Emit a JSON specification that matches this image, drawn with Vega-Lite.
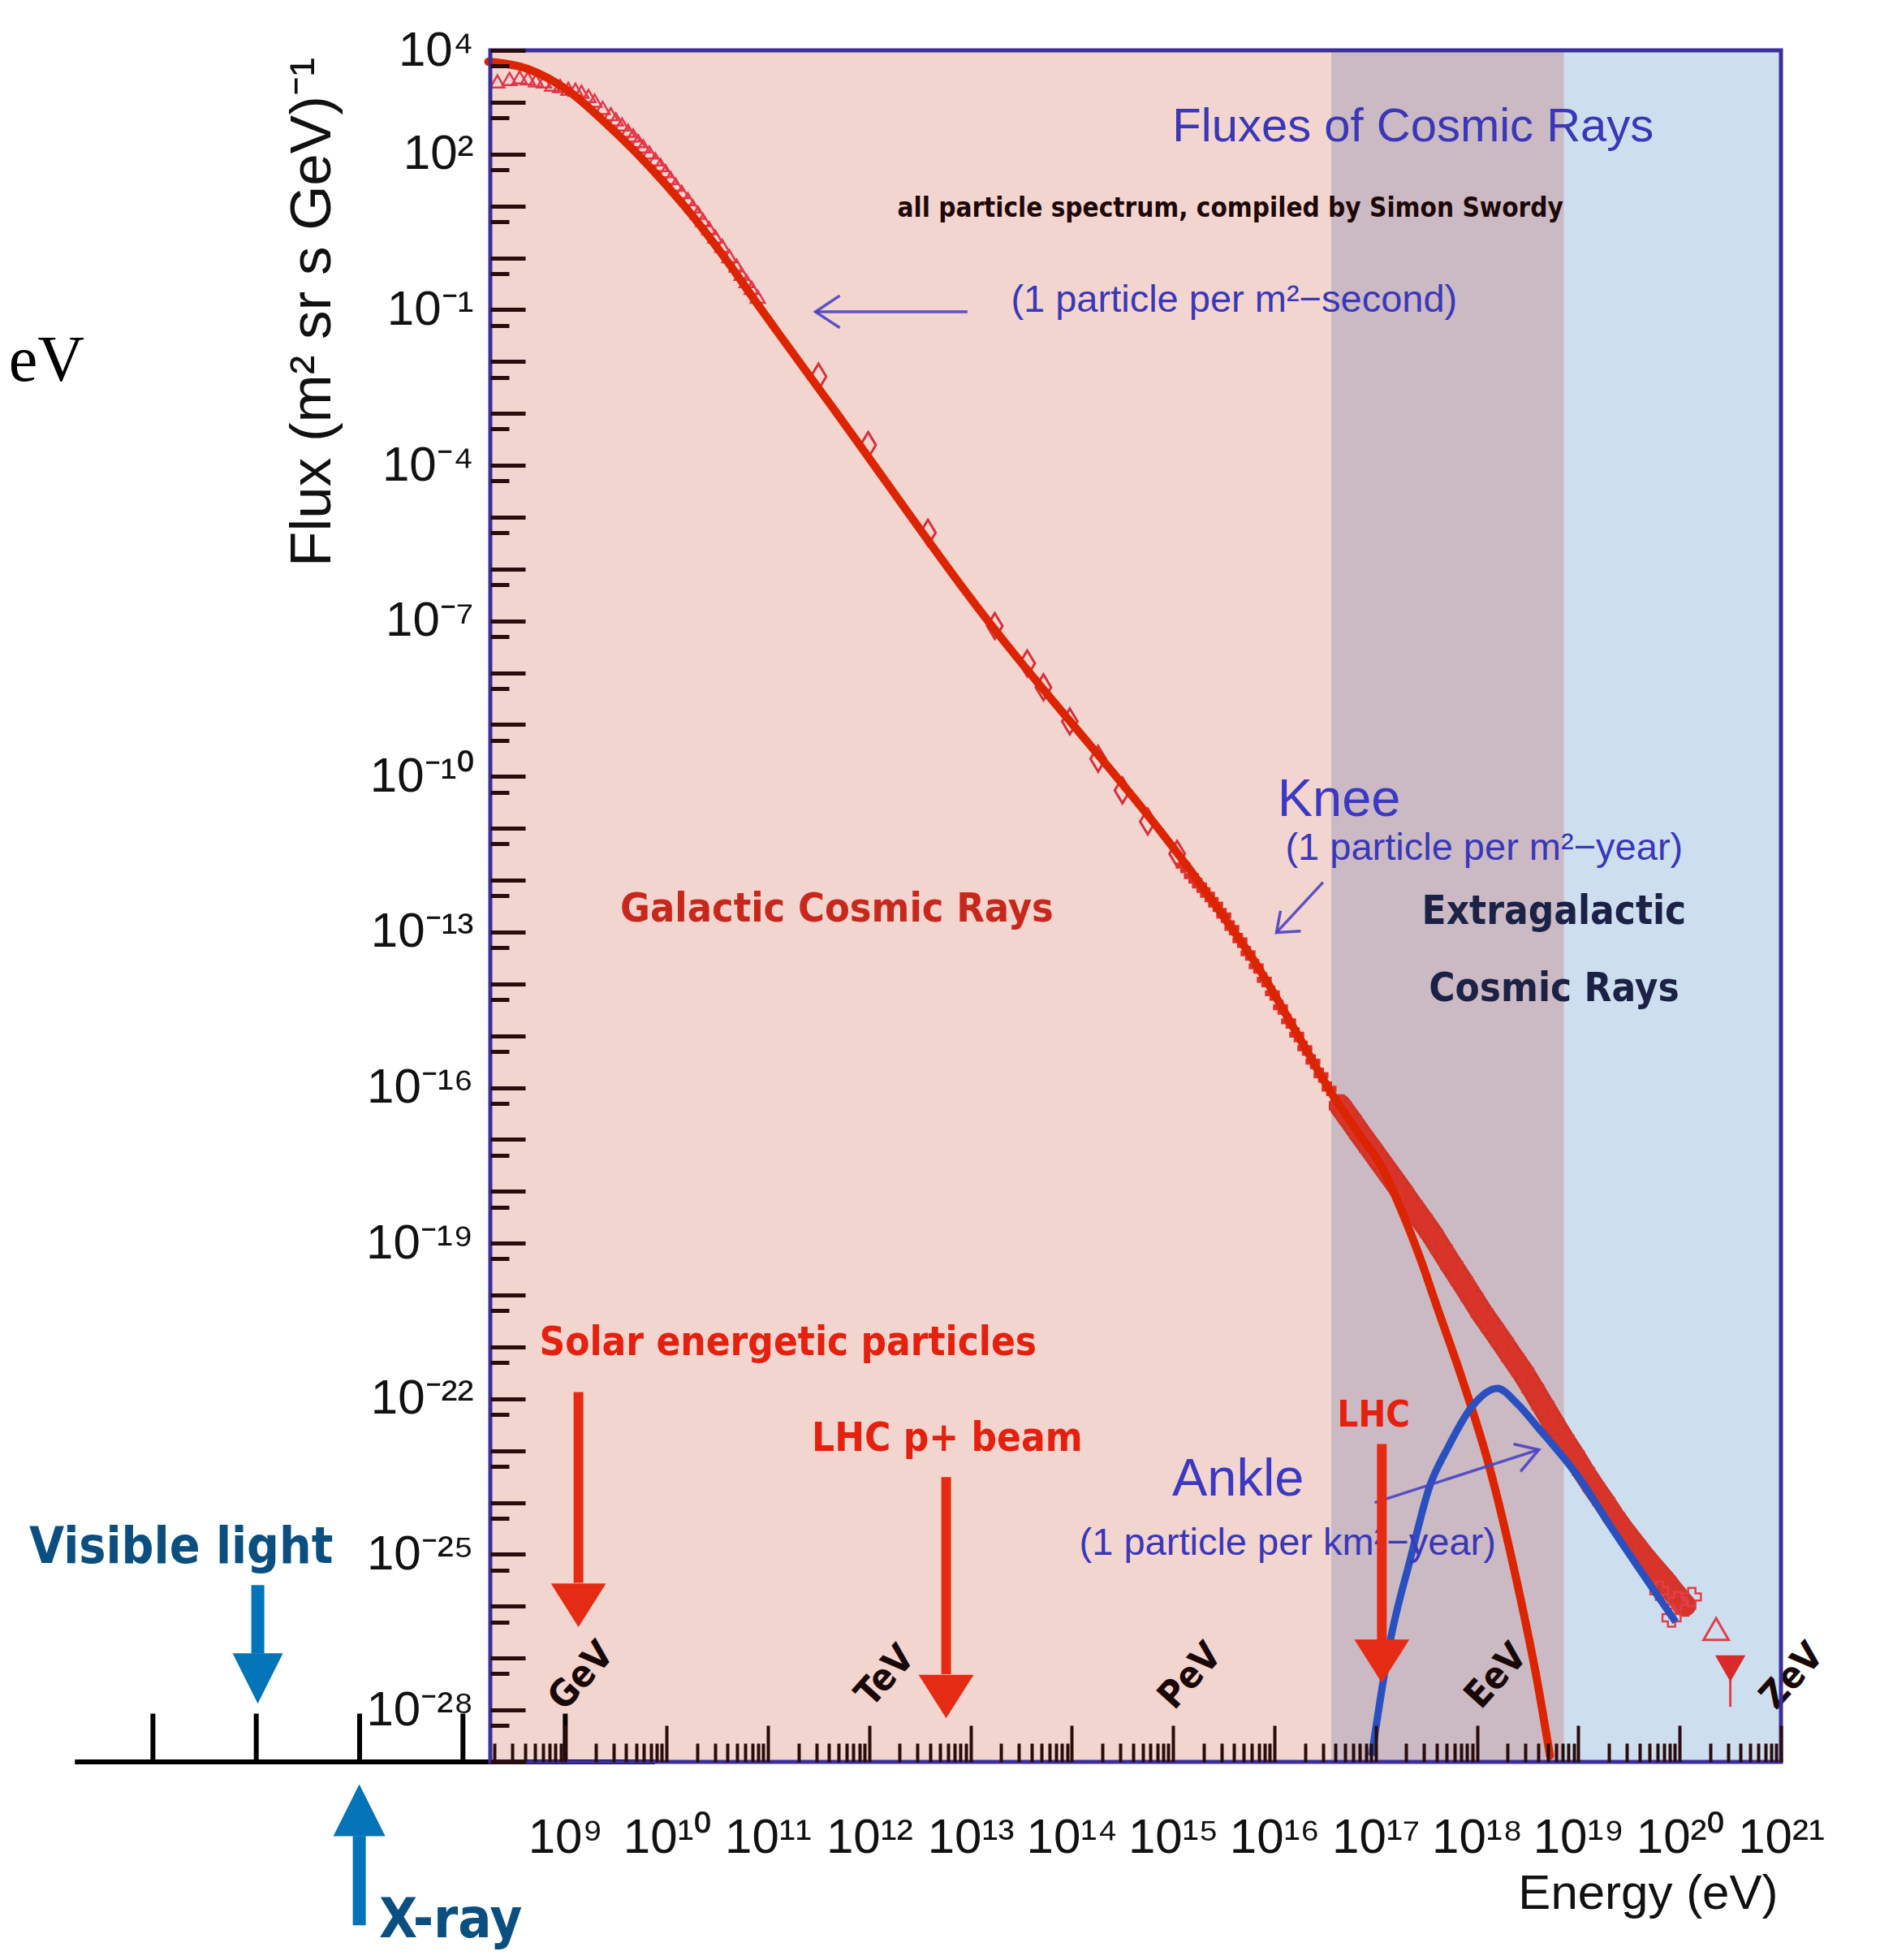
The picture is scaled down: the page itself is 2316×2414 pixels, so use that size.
{
  "$schema": "https://vega.github.io/schema/vega-lite/v6.json",
  "width": 1590,
  "height": 2108,
  "autosize": {"type": "none"},
  "padding": {"left": 604, "top": 62, "right": 122, "bottom": 244},
  "background": "#ffffff",
  "view": {"stroke": null},
  "datasets": {
    "regions": [
      {"region": "Galactic", "E": 1.82e8, "E2": 3.63e16, "F": 1e4, "F2": 1e-29},
      {"region": "Transition", "E": 3.63e16, "E2": 7.24e18, "F": 1e4, "F2": 1e-29},
      {"region": "Extragalactic", "E": 7.24e18, "E2": 1e21, "F": 1e4, "F2": 1e-29}
    ],
    "frame": [
      {"E": 1.82e8, "E2": 1e21, "F": 1e4, "F2": 1e-29}
    ],
    "measurements": [
      {"set": "direct", "E": 2.138e8, "F": 2512},
      {"set": "direct", "E": 2.818e8, "F": 2818},
      {"set": "direct", "E": 3.548e8, "F": 3020},
      {"set": "direct", "E": 4.266e8, "F": 2884},
      {"set": "direct", "E": 5.129e8, "F": 2630},
      {"set": "direct", "E": 6.166e8, "F": 2512},
      {"set": "direct", "E": 7.413e8, "F": 2188},
      {"set": "direct", "E": 8.913e8, "F": 2042},
      {"set": "direct", "E": 1.072e9, "F": 1820},
      {"set": "direct", "E": 1.259e9, "F": 1738},
      {"set": "direct", "E": 1.445e9, "F": 1585},
      {"set": "direct", "E": 1.698e9, "F": 1318},
      {"set": "direct", "E": 1.95e9, "F": 1072},
      {"set": "direct", "E": 2.344e9, "F": 776.2},
      {"set": "direct", "E": 2.818e9, "F": 588.8},
      {"set": "direct", "E": 3.162e9, "F": 467.7},
      {"set": "direct", "E": 3.631e9, "F": 371.5},
      {"set": "direct", "E": 4.169e9, "F": 281.8},
      {"set": "direct", "E": 4.677e9, "F": 229.1},
      {"set": "direct", "E": 5.248e9, "F": 177.8},
      {"set": "direct", "E": 5.888e9, "F": 141.3},
      {"set": "direct", "E": 6.761e9, "F": 107.2},
      {"set": "direct", "E": 7.762e9, "F": 79.43},
      {"set": "direct", "E": 8.71e9, "F": 61.66},
      {"set": "direct", "E": 9.772e9, "F": 46.77},
      {"set": "direct", "E": 1.096e10, "F": 34.67},
      {"set": "direct", "E": 1.23e10, "F": 25.7},
      {"set": "direct", "E": 1.413e10, "F": 18.62},
      {"set": "direct", "E": 1.622e10, "F": 13.49},
      {"set": "direct", "E": 1.82e10, "F": 9.772},
      {"set": "direct", "E": 2.042e10, "F": 7.413},
      {"set": "direct", "E": 2.291e10, "F": 5.37},
      {"set": "direct", "E": 2.63e10, "F": 3.715},
      {"set": "direct", "E": 3.02e10, "F": 2.57},
      {"set": "direct", "E": 3.548e10, "F": 1.698},
      {"set": "direct", "E": 4.169e10, "F": 1.072},
      {"set": "direct", "E": 4.898e10, "F": 0.7079},
      {"set": "direct", "E": 5.495e10, "F": 0.4898},
      {"set": "direct", "E": 6.166e10, "F": 0.3548},
      {"set": "direct", "E": 6.918e10, "F": 0.263},
      {"set": "direct", "E": 7.943e10, "F": 0.1778},
      {"set": "balloon", "E": 3.162e11, "F": 5.129e-3},
      {"set": "balloon", "E": 9.772e11, "F": 2.455e-4},
      {"set": "balloon", "E": 3.802e12, "F": 5.012e-6},
      {"set": "balloon", "E": 1.738e13, "F": 7.943e-8},
      {"set": "balloon", "E": 3.631e13, "F": 1.514e-8},
      {"set": "balloon", "E": 5.248e13, "F": 5.248e-9},
      {"set": "balloon", "E": 9.55e13, "F": 1.148e-9},
      {"set": "balloon", "E": 1.82e14, "F": 2.188e-10},
      {"set": "balloon", "E": 3.162e14, "F": 5.37e-11},
      {"set": "balloon", "E": 5.623e14, "F": 1.349e-11},
      {"set": "balloon", "E": 1.096e15, "F": 3.236e-12},
      {"set": "knee", "E": 1.259e15, "F": 1.905e-12},
      {"set": "knee", "E": 1.514e15, "F": 1.202e-12},
      {"set": "knee", "E": 1.82e15, "F": 7.943e-13},
      {"set": "knee", "E": 2.188e15, "F": 5.248e-13},
      {"set": "knee", "E": 2.63e15, "F": 3.388e-13},
      {"set": "knee", "E": 3.162e15, "F": 2.089e-13},
      {"set": "knee", "E": 3.802e15, "F": 1.202e-13},
      {"set": "knee", "E": 4.571e15, "F": 6.918e-14},
      {"set": "knee", "E": 5.495e15, "F": 3.89e-14},
      {"set": "knee", "E": 6.607e15, "F": 2.188e-14},
      {"set": "knee", "E": 7.943e15, "F": 1.202e-14},
      {"set": "knee", "E": 9.55e15, "F": 6.607e-15},
      {"set": "knee", "E": 1.148e16, "F": 3.548e-15},
      {"set": "knee", "E": 1.38e16, "F": 1.905e-15},
      {"set": "knee", "E": 1.66e16, "F": 1.047e-15},
      {"set": "knee", "E": 1.995e16, "F": 5.754e-16},
      {"set": "knee", "E": 2.399e16, "F": 3.162e-16},
      {"set": "knee", "E": 2.884e16, "F": 1.738e-16},
      {"set": "knee", "E": 3.467e16, "F": 9.55e-17},
      {"set": "ankle", "E": 4.467e16, "F": 4.467e-17},
      {"set": "ankle", "E": 5.623e16, "F": 2.399e-17},
      {"set": "ankle", "E": 7.079e16, "F": 1.259e-17},
      {"set": "ankle", "E": 8.913e16, "F": 6.761e-18},
      {"set": "ankle", "E": 1.122e17, "F": 3.631e-18},
      {"set": "ankle", "E": 1.413e17, "F": 1.95e-18},
      {"set": "ankle", "E": 1.778e17, "F": 1.047e-18},
      {"set": "ankle", "E": 2.239e17, "F": 5.495e-19},
      {"set": "ankle", "E": 2.818e17, "F": 2.951e-19},
      {"set": "ankle", "E": 3.548e17, "F": 1.549e-19},
      {"set": "ankle", "E": 4.467e17, "F": 7.586e-20},
      {"set": "ankle", "E": 5.623e17, "F": 3.715e-20},
      {"set": "ankle", "E": 7.079e17, "F": 1.862e-20},
      {"set": "ankle", "E": 8.913e17, "F": 9.12e-21},
      {"set": "ankle", "E": 1.122e18, "F": 4.467e-21},
      {"set": "ankle", "E": 1.413e18, "F": 2.344e-21},
      {"set": "ankle", "E": 1.778e18, "F": 1.23e-21},
      {"set": "ankle", "E": 2.239e18, "F": 6.31e-22},
      {"set": "ankle", "E": 2.818e18, "F": 3.311e-22},
      {"set": "ankle", "E": 3.548e18, "F": 1.585e-22},
      {"set": "ankle", "E": 4.467e18, "F": 7.413e-23},
      {"set": "ankle", "E": 5.623e18, "F": 3.467e-23},
      {"set": "ankle", "E": 7.079e18, "F": 1.66e-23},
      {"set": "ankle", "E": 8.913e18, "F": 8.318e-24},
      {"set": "ankle", "E": 1.122e19, "F": 3.981e-24},
      {"set": "ankle", "E": 1.413e19, "F": 1.995e-24},
      {"set": "ankle", "E": 1.778e19, "F": 1.047e-24},
      {"set": "ankle", "E": 2.239e19, "F": 5.248e-25},
      {"set": "ankle", "E": 2.818e19, "F": 2.818e-25},
      {"set": "ankle", "E": 3.548e19, "F": 1.585e-25},
      {"set": "ankle", "E": 4.467e19, "F": 8.913e-26},
      {"set": "ankle", "E": 5.623e19, "F": 5.248e-26},
      {"set": "ankle", "E": 7.079e19, "F": 3.162e-26},
      {"set": "ankle", "E": 8.913e19, "F": 1.778e-26},
      {"set": "ankle", "E": 1.122e20, "F": 1.047e-26},
      {"set": "uhe_misc", "E": 6.31e19, "F": 1.995e-26},
      {"set": "uhe_misc", "E": 9.55e19, "F": 1.259e-26},
      {"set": "uhe_misc", "E": 1.318e20, "F": 1.514e-26},
      {"set": "uhe_misc", "E": 8.318e19, "F": 6.026e-27},
      {"set": "uhe_open", "E": 2.291e20, "F": 3.631e-27},
      {"set": "uhe_limit", "E": 3.162e20, "F": 6.31e-28, "F2": 1.15e-28}
    ],
    "fit": [
      {"E": 1.738e8, "F": 6026},
      {"E": 4.266e8, "F": 4365},
      {"E": 1.072e9, "F": 1660},
      {"E": 2.692e9, "F": 346.7},
      {"E": 6.761e9, "F": 57.54},
      {"E": 1.698e10, "F": 7.413},
      {"E": 4.266e10, "F": 0.7079},
      {"E": 7.943e10, "F": 0.1259},
      {"E": 1.288e11, "F": 0.03388},
      {"E": 4.677e11, "F": 1.072e-3},
      {"E": 8.511e12, "F": 4.169e-7},
      {"E": 2.754e15, "F": 2.884e-13},
      {"E": 6.918e15, "F": 2.089e-14},
      {"E": 1.778e16, "F": 8.913e-16},
      {"E": 3.89e16, "F": 6.457e-17},
      {"E": 6.607e16, "F": 1.413e-17},
      {"E": 1.122e17, "F": 3.162e-18},
      {"E": 1.778e17, "F": 4.467e-19},
      {"E": 2.818e17, "F": 4.467e-20},
      {"E": 3.981e17, "F": 6.31e-21},
      {"E": 7.079e17, "F": 2.512e-22},
      {"E": 1.318e18, "F": 5.012e-24},
      {"E": 2.455e18, "F": 3.162e-26},
      {"E": 3.89e18, "F": 3.981e-28},
      {"E": 5.248e18, "F": 1.318e-29}
    ],
    "extragalactic": [
      {"E": 9.12e16, "F": 1.318e-29},
      {"E": 1.38e17, "F": 1.995e-27},
      {"E": 2.188e17, "F": 7.943e-26},
      {"E": 3.388e17, "F": 1.995e-24},
      {"E": 5.129e17, "F": 1.122e-23},
      {"E": 8.913e17, "F": 7.079e-23},
      {"E": 1.585e18, "F": 1.585e-22},
      {"E": 2.512e18, "F": 7.943e-23},
      {"E": 3.981e18, "F": 2.818e-23},
      {"E": 9.55e18, "F": 3.548e-24},
      {"E": 2.239e19, "F": 2.818e-25},
      {"E": 9.12e19, "F": 5.012e-27}
    ],
    "pointers": [
      {"seg": "second-shaft", "i": 0, "E": 2.951e11, "F": 0.0912},
      {"seg": "second-shaft", "i": 1, "E": 9.333e12, "F": 0.0912},
      {"seg": "second-head", "i": 0, "E": 5.129e11, "F": 0.1862},
      {"seg": "second-head", "i": 1, "E": 2.951e11, "F": 0.0912},
      {"seg": "second-head", "i": 2, "E": 5.129e11, "F": 0.04467},
      {"seg": "knee-shaft", "i": 0, "E": 3.02e16, "F": 9.12e-13},
      {"seg": "knee-shaft", "i": 1, "E": 1.047e16, "F": 9.772e-14},
      {"seg": "knee-head", "i": 0, "E": 1.148e16, "F": 2.57e-13},
      {"seg": "knee-head", "i": 1, "E": 1.047e16, "F": 9.772e-14},
      {"seg": "knee-head", "i": 2, "E": 1.82e16, "F": 1.047e-13},
      {"seg": "ankle-shaft", "i": 0, "E": 9.772e16, "F": 1e-24},
      {"seg": "ankle-shaft", "i": 1, "E": 4.074e18, "F": 1.047e-23},
      {"seg": "ankle-head", "i": 0, "E": 2.291e18, "F": 1.349e-23},
      {"seg": "ankle-head", "i": 1, "E": 4.074e18, "F": 1.047e-23},
      {"seg": "ankle-head", "i": 2, "E": 2.692e18, "F": 3.981e-24}
    ],
    "notes": [
      {"kind": "title", "text": "Fluxes of Cosmic Rays", "E": 2.34e17, "F": 177.8},
      {"kind": "credit", "text": "all particle spectrum, compiled by Simon Swordy", "E": 3.67e15, "F": 6.17},
      {"kind": "rate", "text": "(1 particle per m²−second)", "E": 4.0e15, "F": 0.0912},
      {"kind": "feature", "text": "Knee", "E": 1.07e16, "F": 1.74e-11},
      {"kind": "rate", "text": "(1 particle per m²−year)", "E": 1.175e18, "F": 2.5e-12},
      {"kind": "feature", "text": "Ankle", "E": 9.77e14, "F": 1.38e-24},
      {"kind": "rate", "text": "(1 particle per km²−year)", "E": 1.35e16, "F": 9.8e-26},
      {"kind": "galactic", "text": "Galactic Cosmic Rays", "E": 4.79e11, "F": 1.62e-13},
      {"kind": "extragalactic", "text": "Extragalactic", "E": 5.75e18, "F": 1.41e-13},
      {"kind": "extragalactic", "text": "Cosmic Rays", "E": 5.75e18, "F": 4.6e-15},
      {"kind": "unit", "text": "GeV", "E": 1.445e9, "F": 4.5e-28},
      {"kind": "unit", "text": "TeV", "E": 1.445e12, "F": 4.5e-28},
      {"kind": "unit", "text": "PeV", "E": 1.479e15, "F": 4.5e-28},
      {"kind": "unit", "text": "EeV", "E": 1.549e18, "F": 4.5e-28},
      {"kind": "unit", "text": "ZeV", "E": 1.29e21, "F": 4.5e-28},
      {"kind": "ev", "text": "eV", "E": 7.6e3, "F": 4.2e-3},
      {"kind": "light", "text": "Visible light", "E": 1.62e5, "F": 6.8e-26},
      {"kind": "xray", "text": "X-ray", "E": 7.4e7, "F": 4.2e-33}
    ],
    "reach": [
      {"what": "Solar energetic particles", "part": "shaft", "E": 1.35e9, "F": 1.349e-22, "F2": 2.818e-26},
      {"what": "Solar energetic particles", "part": "head", "E": 1.35e9, "F": 1.047e-26},
      {"what": "Solar energetic particles", "part": "label", "E": 1.58e11, "F": 6.9e-22},
      {"what": "LHC p+ beam", "part": "shaft", "E": 5.75e12, "F": 3.09e-24, "F2": 4.898e-28},
      {"what": "LHC p+ beam", "part": "head", "E": 5.75e12, "F": 1.82e-28},
      {"what": "LHC p+ beam", "part": "label", "E": 5.89e12, "F": 9.8e-24},
      {"what": "LHC", "part": "shaft", "E": 1.15e17, "F": 1.349e-23, "F2": 1.905e-27},
      {"what": "LHC", "part": "head", "E": 1.15e17, "F": 8.71e-28},
      {"what": "LHC", "part": "label", "E": 9.55e16, "F": 2.95e-23}
    ],
    "photon": [
      {"part": "axis", "E": 1.445e4, "E2": 7.674e9, "F": 1e-29},
      {"part": "tick", "E": 8.511e4, "F": 1e-29, "F2": 8.51e-29},
      {"part": "tick", "E": 8.913e5, "F": 1e-29, "F2": 8.51e-29},
      {"part": "tick", "E": 9.333e6, "F": 1e-29, "F2": 8.51e-29},
      {"part": "tick", "E": 9.772e7, "F": 1e-29, "F2": 8.51e-29},
      {"part": "tick", "E": 1e9, "F": 1e-29, "F2": 8.51e-29},
      {"part": "shaft", "E": 9.23e5, "F": 2.57e-26, "F2": 1.23e-27},
      {"part": "head-down", "E": 9.23e5, "F": 4.074e-28},
      {"part": "shaft", "E": 9.27e6, "F": 7.079e-33, "F2": 3.715e-31},
      {"part": "head-up", "E": 9.27e6, "F": 1.175e-30}
    ]
  },
  "encoding": {
    "x": {
      "field": "E",
      "type": "quantitative",
      "scale": {"type": "log", "domain": [1.82e8, 1e21], "nice": false},
      "axis": {
        "title": "Energy (eV)",
        "titleFont": "Liberation Sans",
        "titleFontSize": 60,
        "titleFontWeight": "normal",
        "titleColor": "#111111",
        "titleAnchor": "end",
        "titleAlign": "right",
        "titleBaseline": "alphabetic",
        "titleX": 1586,
        "titleY": 180,
        "values": [2e8, 3e8, 4e8, 5e8, 6e8, 7e8, 8e8, 9e8,
          1e9, 2e9, 3e9, 4e9, 5e9, 6e9, 7e9, 8e9, 9e9,
          1e10, 2e10, 3e10, 4e10, 5e10, 6e10, 7e10, 8e10, 9e10,
          1e11, 2e11, 3e11, 4e11, 5e11, 6e11, 7e11, 8e11, 9e11,
          1e12, 2e12, 3e12, 4e12, 5e12, 6e12, 7e12, 8e12, 9e12,
          1e13, 2e13, 3e13, 4e13, 5e13, 6e13, 7e13, 8e13, 9e13,
          1e14, 2e14, 3e14, 4e14, 5e14, 6e14, 7e14, 8e14, 9e14,
          1e15, 2e15, 3e15, 4e15, 5e15, 6e15, 7e15, 8e15, 9e15,
          1e16, 2e16, 3e16, 4e16, 5e16, 6e16, 7e16, 8e16, 9e16,
          1e17, 2e17, 3e17, 4e17, 5e17, 6e17, 7e17, 8e17, 9e17,
          1e18, 2e18, 3e18, 4e18, 5e18, 6e18, 7e18, 8e18, 9e18,
          1e19, 2e19, 3e19, 4e19, 5e19, 6e19, 7e19, 8e19, 9e19,
          1e20, 2e20, 3e20, 4e20, 5e20, 6e20, 7e20, 8e20, 9e20, 1e21],
        "labelExpr": "datum.value == 1e9 ? '10⁹' : datum.value == 1e10 ? '10¹⁰' : datum.value == 1e11 ? '10¹¹' : datum.value == 1e12 ? '10¹²' : datum.value == 1e13 ? '10¹³' : datum.value == 1e14 ? '10¹⁴' : datum.value == 1e15 ? '10¹⁵' : datum.value == 1e16 ? '10¹⁶' : datum.value == 1e17 ? '10¹⁷' : datum.value == 1e18 ? '10¹⁸' : datum.value == 1e19 ? '10¹⁹' : datum.value == 1e20 ? '10²⁰' : datum.value == 1e21 ? '10²¹' : ''",
        "labelFont": "Liberation Sans",
        "labelFontSize": 60,
        "labelColor": "#111111",
        "labelAlign": "center",
        "labelBaseline": "alphabetic",
        "labelPadding": 156,
        "labelOverlap": false,
        "labelFlush": false,
        "labelBound": false,
        "tickSize": {"condition": {"test": "abs(log(datum.value)/LN10 - round(log(datum.value)/LN10)) < 0.01", "value": -45}, "value": -23},
        "tickWidth": 4,
        "tickColor": "#2a0c0c",
        "domain": false,
        "grid": false,
        "zindex": 1
      }
    },
    "y": {
      "field": "F",
      "type": "quantitative",
      "scale": {"type": "log", "domain": [1e-29, 1e4], "nice": false},
      "axis": {
        "title": "Flux (m² sr s GeV)⁻¹",
        "titleFont": "Liberation Sans",
        "titleFontSize": 71,
        "titleFontWeight": "normal",
        "titleColor": "#111111",
        "titleAngle": 270,
        "titleAnchor": "end",
        "titleAlign": "right",
        "titleBaseline": "middle",
        "titleX": -219,
        "titleY": 8,
        "values": [1e4, 5e3, 1e3, 500, 100, 50, 10, 5, 1, 0.5, 0.1, 0.05, 0.01, 5e-3, 1e-3, 5e-4, 1e-4, 5e-5, 1e-5, 5e-6, 1e-6, 5e-7, 1e-7, 5e-8, 1e-8, 5e-9, 1e-9, 5e-10, 1e-10, 5e-11, 1e-11, 5e-12, 1e-12, 5e-13, 1e-13, 5e-14, 1e-14, 5e-15, 1e-15, 5e-16, 1e-16, 5e-17, 1e-17, 5e-18, 1e-18, 5e-19, 1e-19, 5e-20, 1e-20, 5e-21, 1e-21, 5e-22, 1e-22, 5e-23, 1e-23, 5e-24, 1e-24, 5e-25, 1e-25, 5e-26, 1e-26, 5e-27, 1e-27, 5e-28, 1e-28, 5e-29, 1e-29],
        "labelExpr": "datum.value == 1e4 ? '10⁴' : datum.value == 100 ? '10²' : datum.value == 0.1 ? '10⁻¹' : datum.value == 1e-4 ? '10⁻⁴' : datum.value == 1e-7 ? '10⁻⁷' : datum.value == 1e-10 ? '10⁻¹⁰' : datum.value == 1e-13 ? '10⁻¹³' : datum.value == 1e-16 ? '10⁻¹⁶' : datum.value == 1e-19 ? '10⁻¹⁹' : datum.value == 1e-22 ? '10⁻²²' : datum.value == 1e-25 ? '10⁻²⁵' : datum.value == 1e-28 ? '10⁻²⁸' : ''",
        "labelFont": "Liberation Sans",
        "labelFontSize": 60,
        "labelColor": "#111111",
        "labelAlign": "right",
        "labelBaseline": "middle",
        "labelPadding": 64,
        "labelOverlap": false,
        "labelFlush": false,
        "labelBound": false,
        "tickSize": {"condition": {"test": "abs(log(datum.value)/LN10 - round(log(datum.value)/LN10)) < 0.01", "value": -43}, "value": -23},
        "tickWidth": 5,
        "tickColor": "#2a0c0c",
        "domain": false,
        "grid": false,
        "zindex": 1
      }
    }
  },
  "layer": [
    {
      "data": {"name": "regions"},
      "mark": {"type": "rect"},
      "encoding": {
        "x2": {"field": "E2"},
        "y2": {"field": "F2"},
        "color": {"field": "region", "type": "nominal", "scale": {"domain": ["Galactic", "Transition", "Extragalactic"], "range": ["#f3d5cf", "#cbbac3", "#cddfef"]}, "legend": null}
      }
    },
    {
      "data": {"name": "measurements"},
      "transform": [{"filter": "datum.set == 'direct'"}],
      "mark": {"type": "point", "shape": "triangle-up", "filled": false, "color": "#e2364a", "strokeWidth": 2.5, "size": 300, "opacity": 1, "clip": false}
    },
    {
      "data": {"name": "measurements"},
      "transform": [{"filter": "datum.set == 'balloon'"}],
      "mark": {"type": "point", "shape": "M0,-1L0.6,0L0,1L-0.6,0Z", "filled": false, "color": "#d6303e", "strokeWidth": 3, "size": 1000, "opacity": 1}
    },
    {
      "data": {"name": "measurements"},
      "transform": [{"filter": "datum.set == 'knee'"}],
      "mark": {"type": "point", "shape": "cross", "filled": true, "color": "#e0302c", "size": 340, "opacity": 1}
    },
    {
      "data": {"name": "measurements"},
      "transform": [{"filter": "datum.set == 'ankle'"}],
      "mark": {"type": "line", "color": "#cf2b1f", "strokeWidth": 28, "strokeCap": "round", "opacity": 0.95}
    },
    {
      "data": {"name": "measurements"},
      "transform": [{"filter": "datum.set == 'ankle'"}],
      "mark": {"type": "point", "shape": "cross", "filled": true, "color": "#d8342a", "size": 800, "opacity": 1}
    },
    {
      "data": {"name": "measurements"},
      "transform": [{"filter": "datum.set == 'uhe_misc'"}],
      "mark": {"type": "point", "shape": "cross", "filled": false, "color": "#e0404a", "strokeWidth": 2.5, "size": 500, "opacity": 1}
    },
    {
      "data": {"name": "measurements"},
      "transform": [{"filter": "datum.set == 'uhe_open'"}],
      "mark": {"type": "point", "shape": "triangle-up", "filled": false, "color": "#e0404a", "strokeWidth": 3, "size": 950, "opacity": 1}
    },
    {
      "data": {"name": "measurements"},
      "transform": [{"filter": "datum.set == 'uhe_limit'"}],
      "mark": {"type": "rule", "color": "#e0404a", "strokeWidth": 3},
      "encoding": {"y2": {"field": "F2"}}
    },
    {
      "data": {"name": "measurements"},
      "transform": [{"filter": "datum.set == 'uhe_limit'"}],
      "mark": {"type": "point", "shape": "triangle-down", "filled": true, "color": "#d82a2a", "size": 1400, "opacity": 1}
    },
    {
      "data": {"name": "fit"},
      "mark": {"type": "line", "color": "#dc2400", "strokeWidth": 10, "interpolate": "monotone", "strokeCap": "round", "clip": false}
    },
    {
      "data": {"name": "extragalactic"},
      "mark": {"type": "line", "color": "#2a50c0", "strokeWidth": 9, "interpolate": "monotone", "strokeCap": "butt"}
    },
    {
      "data": {"name": "pointers"},
      "mark": {"type": "line", "color": "#4a42c4", "strokeWidth": 3.5, "opacity": 0.9},
      "encoding": {"detail": {"field": "seg"}, "order": {"field": "i"}}
    },
    {
      "data": {"name": "notes"},
      "transform": [{"filter": "datum.kind == 'title'"}],
      "mark": {"type": "text", "font": "Liberation Sans", "fontSize": 58, "color": "#3a37b8", "align": "center", "baseline": "alphabetic"},
      "encoding": {"text": {"field": "text"}}
    },
    {
      "data": {"name": "notes"},
      "transform": [{"filter": "datum.kind == 'credit'"}],
      "mark": {"type": "text", "font": "DejaVu Sans Condensed", "fontWeight": "bold", "fontSize": 33, "color": "#1e0808", "align": "center", "baseline": "alphabetic"},
      "encoding": {"text": {"field": "text"}}
    },
    {
      "data": {"name": "notes"},
      "transform": [{"filter": "datum.kind == 'rate'"}],
      "mark": {"type": "text", "font": "Liberation Sans", "fontSize": 47, "color": "#3a37b8", "align": "center", "baseline": "alphabetic"},
      "encoding": {"text": {"field": "text"}}
    },
    {
      "data": {"name": "notes"},
      "transform": [{"filter": "datum.kind == 'feature'"}],
      "mark": {"type": "text", "font": "Liberation Sans", "fontSize": 65, "color": "#3b38c4", "align": "left", "baseline": "alphabetic"},
      "encoding": {"text": {"field": "text"}}
    },
    {
      "data": {"name": "notes"},
      "transform": [{"filter": "datum.kind == 'galactic'"}],
      "mark": {"type": "text", "font": "DejaVu Sans Condensed", "fontWeight": "bold", "fontSize": 50, "color": "#c8281c", "align": "center", "baseline": "alphabetic"},
      "encoding": {"text": {"field": "text"}}
    },
    {
      "data": {"name": "notes"},
      "transform": [{"filter": "datum.kind == 'extragalactic'"}],
      "mark": {"type": "text", "font": "DejaVu Sans Condensed", "fontWeight": "bold", "fontSize": 49, "color": "#1c2246", "align": "center", "baseline": "alphabetic"},
      "encoding": {"text": {"field": "text"}}
    },
    {
      "data": {"name": "reach"},
      "transform": [{"filter": "datum.part == 'shaft'"}],
      "mark": {"type": "rule", "color": "#e52b14", "strokeWidth": 12, "strokeCap": "butt"},
      "encoding": {"y2": {"field": "F2"}}
    },
    {
      "data": {"name": "reach"},
      "transform": [{"filter": "datum.part == 'head'"}],
      "mark": {"type": "point", "shape": "M-1,-0.79L1,-0.79L0,0.79Z", "filled": true, "color": "#e52b14", "size": 4600, "opacity": 1}
    },
    {
      "data": {"name": "reach"},
      "transform": [{"filter": "datum.part == 'label' && datum.what != 'LHC'"}],
      "mark": {"type": "text", "font": "DejaVu Sans Condensed", "fontWeight": "bold", "fontSize": 49, "color": "#e5200e", "align": "center", "baseline": "alphabetic"},
      "encoding": {"text": {"field": "what"}}
    },
    {
      "data": {"name": "reach"},
      "transform": [{"filter": "datum.part == 'label' && datum.what == 'LHC'"}],
      "mark": {"type": "text", "font": "DejaVu Sans Condensed", "fontWeight": "bold", "fontSize": 45, "color": "#e5200e", "align": "center", "baseline": "alphabetic"},
      "encoding": {"text": {"field": "what"}}
    },
    {
      "data": {"name": "notes"},
      "transform": [{"filter": "datum.kind == 'unit'"}],
      "mark": {"type": "text", "font": "DejaVu Sans Condensed", "fontWeight": "bold", "fontSize": 46, "color": "#1a0808", "align": "center", "baseline": "middle", "angle": 312, "clip": false},
      "encoding": {"text": {"field": "text"}}
    },
    {
      "data": {"name": "photon"},
      "transform": [{"filter": "datum.part == 'axis'"}],
      "mark": {"type": "rule", "color": "#000000", "strokeWidth": 6, "clip": false},
      "encoding": {"x2": {"field": "E2"}}
    },
    {
      "data": {"name": "photon"},
      "transform": [{"filter": "datum.part == 'tick'"}],
      "mark": {"type": "rule", "color": "#000000", "strokeWidth": 6, "clip": false},
      "encoding": {"y2": {"field": "F2"}}
    },
    {
      "data": {"name": "photon"},
      "transform": [{"filter": "datum.part == 'shaft'"}],
      "mark": {"type": "rule", "color": "#0474b8", "strokeWidth": 16, "strokeCap": "butt", "clip": false},
      "encoding": {"y2": {"field": "F2"}}
    },
    {
      "data": {"name": "photon"},
      "transform": [{"filter": "datum.part == 'head-down'"}],
      "mark": {"type": "point", "shape": "M-1,-1L1,-1L0,1Z", "filled": true, "color": "#0474b8", "size": 3844, "opacity": 1, "clip": false}
    },
    {
      "data": {"name": "photon"},
      "transform": [{"filter": "datum.part == 'head-up'"}],
      "mark": {"type": "point", "shape": "M-1,1L1,1L0,-1Z", "filled": true, "color": "#0474b8", "size": 4096, "opacity": 1, "clip": false}
    },
    {
      "data": {"name": "notes"},
      "transform": [{"filter": "datum.kind == 'light'"}],
      "mark": {"type": "text", "font": "DejaVu Sans Condensed", "fontWeight": "bold", "fontSize": 62, "color": "#0b4f80", "align": "center", "baseline": "alphabetic", "clip": false},
      "encoding": {"text": {"field": "text"}}
    },
    {
      "data": {"name": "notes"},
      "transform": [{"filter": "datum.kind == 'xray'"}],
      "mark": {"type": "text", "font": "DejaVu Sans Condensed", "fontWeight": "bold", "fontSize": 68, "color": "#0b4f80", "align": "center", "baseline": "alphabetic", "clip": false},
      "encoding": {"text": {"field": "text"}}
    },
    {
      "data": {"name": "notes"},
      "transform": [{"filter": "datum.kind == 'ev'"}],
      "mark": {"type": "text", "font": "Liberation Serif", "fontSize": 80, "color": "#000000", "align": "center", "baseline": "alphabetic", "clip": false},
      "encoding": {"text": {"field": "text"}}
    },
    {
      "data": {"name": "frame"},
      "mark": {"type": "rect", "filled": false, "stroke": "#3b2f9c", "strokeWidth": 5},
      "encoding": {
        "x2": {"field": "E2"},
        "y2": {"field": "F2"}
      }
    }
  ]
}
